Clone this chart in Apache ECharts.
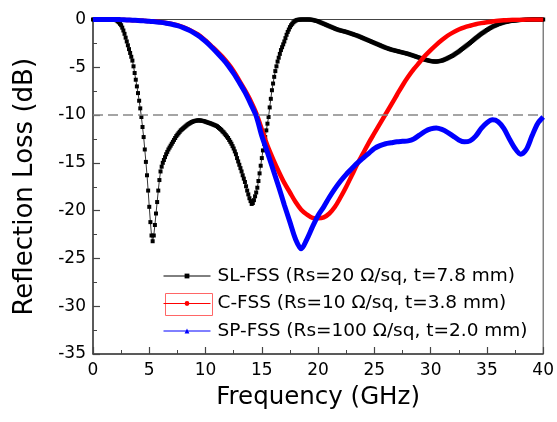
<!DOCTYPE html>
<html>
<head>
<meta charset="utf-8">
<script src="https://cdn.jsdelivr.net/npm/echarts/dist/echarts.min.js"></script>
<style>
  html, body { margin: 0; padding: 0; background: #fff; }
  #chart { width: 557px; height: 422px; }
</style>
</head>
<body>
<div id="chart"></div>
<script>
// SL-FSS: sampled every 0.1 GHz from 0 to 40 GHz (one row per GHz)
const slStep = 0.1;
const slValues = [
  0, 0, 0, 0, 0, 0, 0, 0, 0, 0,
  0, 0, 0, 0, 0, 0, 0, 0, -0.01, -0.02,
  -0.05, -0.1, -0.2, -0.3, -0.45, -0.6, -0.85, -1.15, -1.5, -1.9,
  -2.3, -2.7, -3.1, -3.5, -3.9, -4.3, -4.9, -5.6, -6.3, -7.0,
  -7.7, -8.5, -9.3, -10.2, -11.25, -12.3, -13.6, -14.9, -16.3, -17.9,
  -19.6, -21.2, -22.6, -23.2, -22.6, -21.5, -20.3, -19.1, -17.9, -16.8,
  -15.9, -15.4, -15.0, -14.7, -14.4, -14.1, -13.85, -13.6, -13.4, -13.2,
  -13.0, -12.8, -12.6, -12.4, -12.2, -12.05, -11.9, -11.75, -11.6, -11.5,
  -11.4, -11.3, -11.2, -11.1, -11.0, -10.92, -10.85, -10.78, -10.72, -10.67,
  -10.63, -10.6, -10.58, -10.56, -10.55, -10.56, -10.58, -10.6, -10.62, -10.65,
  -10.7, -10.74, -10.78, -10.82, -10.86, -10.9, -10.95, -11.0, -11.05, -11.1,
  -11.15, -11.25, -11.35, -11.45, -11.55, -11.7, -11.8, -11.95, -12.1, -12.25,
  -12.4, -12.6, -12.8, -13.0, -13.25, -13.5, -13.8, -14.1, -14.5, -14.85,
  -15.2, -15.55, -15.9, -16.3, -16.65, -17.0, -17.45, -17.9, -18.3, -18.7,
  -19.0, -19.3, -19.2, -18.9, -18.5, -18.1, -17.6, -16.9, -16.1, -15.3,
  -14.5, -13.7, -13.0, -12.3, -11.6, -10.9, -10.2, -9.2, -8.3, -7.4,
  -6.7, -6.0, -5.4, -4.9, -4.4, -4.0, -3.6, -3.2, -2.9, -2.6,
  -2.3, -1.95, -1.6, -1.3, -1.05, -0.8, -0.6, -0.45, -0.3, -0.2,
  -0.12, -0.06, -0.03, -0.02, -0.01, 0, 0, 0, 0, 0,
  0, 0, 0, -0.01, -0.02, -0.04, -0.07, -0.1, -0.13, -0.16,
  -0.2, -0.25, -0.3, -0.35, -0.4, -0.45, -0.5, -0.55, -0.6, -0.65,
  -0.7, -0.75, -0.8, -0.85, -0.9, -0.95, -1.0, -1.04, -1.08, -1.12,
  -1.15, -1.18, -1.21, -1.24, -1.27, -1.3, -1.34, -1.38, -1.42, -1.46,
  -1.5, -1.54, -1.58, -1.62, -1.66, -1.7, -1.75, -1.8, -1.85, -1.9,
  -1.95, -2.0, -2.05, -2.1, -2.15, -2.2, -2.25, -2.3, -2.35, -2.4,
  -2.45, -2.5, -2.55, -2.6, -2.65, -2.7, -2.75, -2.8, -2.85, -2.9,
  -2.95, -2.99, -3.03, -3.07, -3.11, -3.15, -3.18, -3.21, -3.24, -3.27,
  -3.3, -3.33, -3.36, -3.39, -3.42, -3.45, -3.48, -3.51, -3.54, -3.57,
  -3.6, -3.64, -3.68, -3.72, -3.76, -3.8, -3.84, -3.88, -3.92, -3.96,
  -4.0, -4.04, -4.08, -4.12, -4.16, -4.2, -4.23, -4.26, -4.29, -4.32,
  -4.35, -4.37, -4.38, -4.39, -4.4, -4.4, -4.39, -4.37, -4.35, -4.32,
  -4.3, -4.26, -4.21, -4.16, -4.11, -4.05, -3.99, -3.93, -3.87, -3.81,
  -3.75, -3.67, -3.59, -3.51, -3.43, -3.35, -3.26, -3.17, -3.08, -2.99,
  -2.9, -2.81, -2.72, -2.63, -2.54, -2.45, -2.35, -2.25, -2.15, -2.05,
  -1.95, -1.86, -1.77, -1.68, -1.59, -1.5, -1.42, -1.34, -1.26, -1.18,
  -1.1, -1.03, -0.96, -0.89, -0.82, -0.75, -0.7, -0.65, -0.6, -0.55,
  -0.5, -0.46, -0.42, -0.38, -0.34, -0.3, -0.28, -0.25, -0.23, -0.2,
  -0.18, -0.16, -0.14, -0.13, -0.11, -0.1, -0.09, -0.08, -0.07, -0.06,
  -0.05, -0.04, -0.04, -0.03, -0.03, -0.02, -0.02, -0.01, -0.01, -0.01,
  0, 0, 0, 0, 0, 0, 0, 0, 0, 0,
  0
];

// C-FSS and SP-FSS: read every 0.5 GHz from 0 to 40 GHz
const coarseStep = 0.5;
const cValues = [
  0, 0, 0, 0, 0, -0.02, -0.04, -0.07, -0.1, -0.13,
  -0.17, -0.22, -0.28, -0.36, -0.46, -0.6, -0.8, -1.05, -1.35, -1.7,
  -2.2, -2.75, -3.3, -3.9, -4.6, -5.4, -6.4, -7.4, -8.5, -9.8,
  -11.5, -13.2, -14.6, -15.9, -17.1, -18.1, -19.1, -19.9, -20.4, -20.75,
  -20.8, -20.7, -20.3, -19.6, -18.6, -17.5, -16.3, -15.1, -14.0, -12.9,
  -11.9, -10.9, -9.9, -8.9, -7.9, -6.9, -6.0, -5.2, -4.5, -3.8,
  -3.2, -2.65, -2.15, -1.7, -1.35, -1.05, -0.82, -0.65, -0.5, -0.38,
  -0.28, -0.2, -0.13, -0.08, -0.05, -0.03, -0.02, -0.01, 0, 0,
  0
];
const spValues = [
  0, 0, 0, 0, 0, -0.02, -0.04, -0.07, -0.1, -0.14,
  -0.18, -0.24, -0.3, -0.39, -0.5, -0.65, -0.85, -1.1, -1.42, -1.8,
  -2.3, -2.85, -3.45, -4.1, -4.8, -5.65, -6.6, -7.6, -8.8, -10.1,
  -12.2, -13.9, -15.7, -17.5, -19.4, -21.2, -23.0, -24.0, -23.0, -21.7,
  -20.5, -19.6, -18.6, -17.7, -16.9, -16.2, -15.6, -15.0, -14.5, -14.0,
  -13.5, -13.2, -13.0, -12.9, -12.8, -12.75, -12.7, -12.5, -12.1, -11.7,
  -11.45, -11.35, -11.5, -11.8, -12.2, -12.6, -12.8, -12.7, -12.2, -11.4,
  -10.8, -10.5, -10.7, -11.4, -12.5, -13.5, -14.1, -13.6, -12.2, -10.9,
  -10.2
];

const threshold = -10;
const xTicks = { min: 0, max: 40, interval: 5 };
const yTicks = { min: -35, max: 0, interval: 5 };

const seriesNames = [
  'SL-FSS (Rs=20 \u03A9/sq, t=7.8 mm)',
  'C-FSS (Rs=10 \u03A9/sq, t=3.8 mm)',
  'SP-FSS (Rs=100 \u03A9/sq, t=2.0 mm)'
];

const font = '"DejaVu Sans", "Liberation Sans", Arial, sans-serif';
const toPairs = (vals, step) => vals.map((v, i) => [+(i * step).toFixed(2), v]);

const axisColor = '#444';
const chart = echarts.init(document.getElementById('chart'));

chart.setOption({
  animation: false,
  grid: {
    left: 93, right: 11, top: 19.5, bottom: 68,
    show: true, borderColor: axisColor, borderWidth: 1
  },
  xAxis: {
    type: 'value',
    min: xTicks.min, max: xTicks.max, interval: xTicks.interval,
    name: 'Frequency (GHz)',
    nameLocation: 'middle',
    nameGap: 31,
    nameTextStyle: { fontFamily: font, fontSize: 24.5, color: '#000' },
    axisLine: { show: true, onZero: false, lineStyle: { color: axisColor, width: 1.5 } },
    axisTick: { inside: true, length: 7, lineStyle: { color: axisColor, width: 1.2 } },
    minorTick: { show: true, splitNumber: 2, length: 4, lineStyle: { color: axisColor, width: 1 } },
    axisLabel: { fontFamily: font, fontSize: 17, color: '#000', margin: 8 },
    splitLine: { show: false }
  },
  yAxis: {
    type: 'value',
    min: yTicks.min, max: yTicks.max, interval: yTicks.interval,
    name: 'Reflection Loss (dB)',
    nameLocation: 'middle',
    nameGap: 55,
    nameTextStyle: { fontFamily: font, fontSize: 26, color: '#000' },
    axisLine: { show: true, onZero: false, lineStyle: { color: axisColor, width: 1.5 } },
    axisTick: { inside: true, length: 7, lineStyle: { color: axisColor, width: 1.2 } },
    minorTick: { show: true, splitNumber: 2, length: 4, lineStyle: { color: axisColor, width: 1 } },
    axisLabel: { fontFamily: font, fontSize: 17, color: '#000', margin: 7 },
    splitLine: { show: false }
  },
  legend: {
    orient: 'vertical',
    left: 163, top: 266, padding: 0,
    itemWidth: 47, itemHeight: 6, itemGap: 7.5,
    textStyle: { fontFamily: font, fontSize: 18.5, lineHeight: 20, color: '#000', padding: [0, 0, 0, 2] },
    lineStyle: { width: 1 },
    data: seriesNames
  },
  graphic: [{
    type: 'rect', left: 163, top: 291,
    shape: { width: 47, height: 22 },
    style: { fill: 'none', stroke: '#f66', lineWidth: 1 },
    silent: true
  }],
  series: [
    {
      name: seriesNames[0],
      type: 'line',
      data: toPairs(slValues, slStep),
      symbol: 'rect', symbolSize: 4, showAllSymbol: true,
      itemStyle: { color: '#000' },
      lineStyle: { color: '#000', width: 0.8 },
      z: 2,
      markLine: {
        silent: true, symbol: 'none', label: { show: false },
        lineStyle: { color: '#888', type: [10, 5], width: 1.5 },
        data: [{ yAxis: threshold }]
      }
    },
    {
      name: seriesNames[1],
      type: 'line',
      data: toPairs(cValues, coarseStep),
      symbol: 'circle', showSymbol: false,
      smooth: 0.3,
      itemStyle: { color: '#f00' },
      lineStyle: { color: '#f00', width: 4.5 },
      z: 3
    },
    {
      name: seriesNames[2],
      type: 'line',
      data: toPairs(spValues, coarseStep),
      symbol: 'triangle', showSymbol: false,
      smooth: 0.3,
      itemStyle: { color: '#00f' },
      lineStyle: { color: '#00f', width: 5 },
      z: 4
    }
  ]
});
</script>
</body>
</html>
